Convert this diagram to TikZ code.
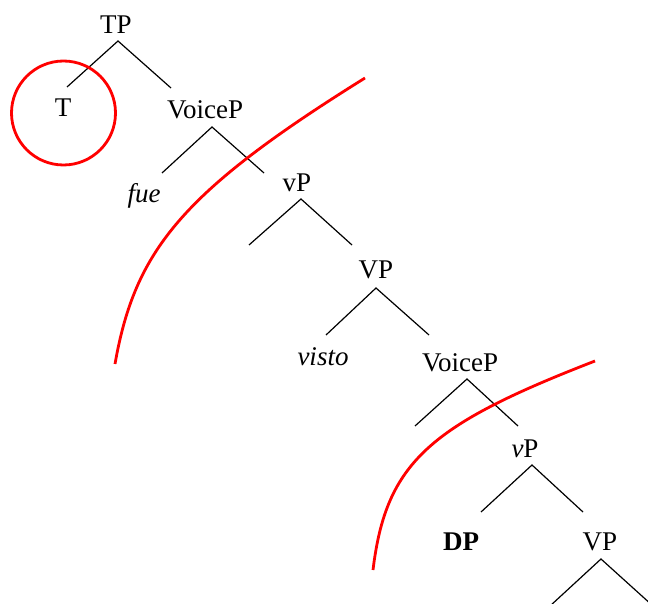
\documentclass[tikz,border=0pt]{standalone}
\usepackage{fontspec}
\setmainfont{Liberation Serif}
\begin{document}
\begin{tikzpicture}[x=1pt,y=-1pt,
  lbl/.style={anchor=base,inner sep=0pt,font=\fontsize{27}{31}\selectfont},
  branch/.style={draw=black,line width=1.2pt},
  redline/.style={draw=red,line width=2.8pt}]
\useasboundingbox (0,0) rectangle (648,604);
\clip (0,0) rectangle (648,604);
% labels
\node[lbl] (TP) at (116,34) {TP};
\node[lbl] (T) at (63,117) {T};
\node[lbl] (VoiceP) at (205,119) {VoiceP};
\node[lbl] (fue) at (144,203) {\itshape fue};
\node[lbl] (vP) at (297,192) {vP};
\node[lbl] (VP) at (376,279) {VP};
\node[lbl] (visto) at (323,365) {\itshape visto};
\node[lbl] (VoicePb) at (460,371) {VoiceP};
\node[lbl] (vPb) at (525,457) {\itshape v\upshape P};
\node[lbl] (DP) at (461,550) {\bfseries DP};
\node[lbl] (VPb) at (600,550) {VP};
% branch points
\coordinate (a1) at (118,41);  \coordinate (l1) at (67,87);   \coordinate (r1) at (171,88);
\coordinate (a2) at (212,127); \coordinate (l2) at (162,173); \coordinate (r2) at (264,173);
\coordinate (a3) at (301,199); \coordinate (l3) at (249,245); \coordinate (r3) at (352,245);
\coordinate (a4) at (376,288); \coordinate (l4) at (326,335); \coordinate (r4) at (429,335);
\coordinate (a5) at (467,379); \coordinate (l5) at (415,426); \coordinate (r5) at (518,426);
\coordinate (a6) at (532,465); \coordinate (l6) at (481,512); \coordinate (r6) at (583,512);
\coordinate (a7) at (601,559); \coordinate (l7) at (550,606); \coordinate (r7) at (653,606);
\foreach \i in {1,...,7}{
  \draw[branch] (l\i) -- (a\i) -- (r\i);
}
% red circle around T
\node[draw=red,line width=2.8pt,circle,minimum size=104pt,inner sep=0pt] (circ) at (63.5,113) {};
% red curves
\coordinate (c1s) at (115,364); \coordinate (c1e) at (365,78);
\draw[redline] (c1s) .. controls (135,250) and (182,192) .. (c1e);
\coordinate (c2s) at (373,570); \coordinate (c2e) at (595,361);
\draw[redline] (c2s) .. controls (386,462) and (430,425) .. (c2e);
\end{tikzpicture}
\end{document}
